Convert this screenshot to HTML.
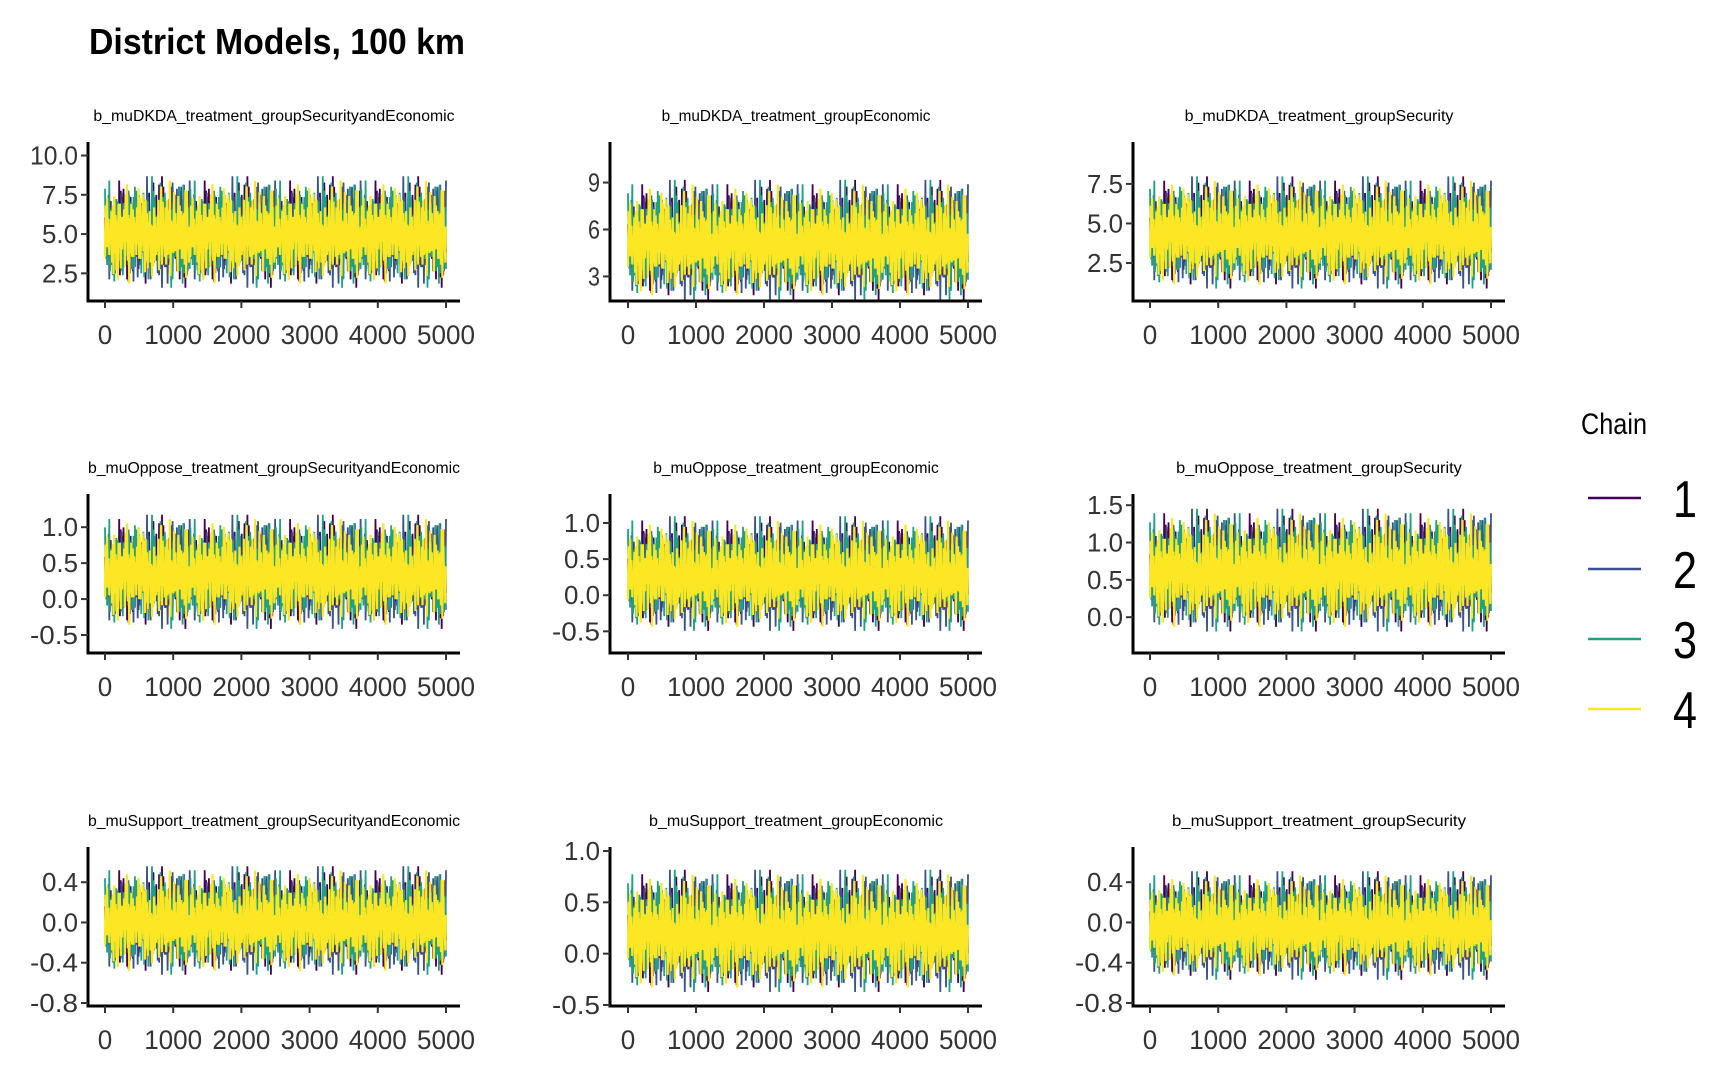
<!DOCTYPE html>
<html><head><meta charset="utf-8">
<style>
html,body{margin:0;padding:0;background:#fff;}
svg{display:block;font-family:"Liberation Sans Narrow","Liberation Sans",sans-serif;}
</style></head>
<body>
<svg id="chart" width="1728" height="1067" viewBox="0 0 1728 1067" xmlns="http://www.w3.org/2000/svg">
<text x="89" y="54" font-size="36" font-weight="bold" textLength="376" lengthAdjust="spacingAndGlyphs">District Models, 100 km</text>
<g>
<text x="1581" y="434" font-size="30" textLength="66" lengthAdjust="spacingAndGlyphs">Chain</text>
</g>
</svg>
<script>
const panelTitles = ["b_muDKDA_treatment_groupSecurityandEconomic","b_muDKDA_treatment_groupEconomic","b_muDKDA_treatment_groupSecurity",
"b_muOppose_treatment_groupSecurityandEconomic","b_muOppose_treatment_groupEconomic","b_muOppose_treatment_groupSecurity",
"b_muSupport_treatment_groupSecurityandEconomic","b_muSupport_treatment_groupEconomic","b_muSupport_treatment_groupSecurity"];
const panelMeans = [5.0,5.2,4.3,0.35,0.27,0.6,0.0,0.2,-0.05];
const panelSds = [1.25,1.35,1.25,0.28,0.28,0.29,0.19,0.21,0.19];
const yDomainMin = [0.74,1.43,0.1,-0.75,-0.80,-0.48,-0.83,-0.51,-0.83];
const yDomainMax = [10.67,11.4,9.96,1.42,1.36,1.61,0.72,1.01,0.72];
const yTicks = [[2.5,5.0,7.5,10.0],[3,6,9],[2.5,5.0,7.5],[-0.5,0.0,0.5,1.0],[-0.5,0.0,0.5,1.0],[0.0,0.5,1.0,1.5],[-0.8,-0.4,0.0,0.4],[-0.5,0.0,0.5,1.0],[-0.8,-0.4,0.0,0.4]];
const yTickLabels = [["2.5","5.0","7.5","10.0"],["3","6","9"],["2.5","5.0","7.5"],["-0.5","0.0","0.5","1.0"],["-0.5","0.0","0.5","1.0"],["0.0","0.5","1.0","1.5"],["-0.8","-0.4","0.0","0.4"],["-0.5","0.0","0.5","1.0"],["-0.8","-0.4","0.0","0.4"]];
const xTicks = [0,1000,2000,3000,4000,5000];
const xTickLabels = ["0","1000","2000","3000","4000","5000"];
const chainNames = ["1","2","3","4"];
const chainColors = ["#440154","#3b528b","#21a083","#fde725"];
const chainOffsets = [0,31,62,93];
const chainStrides = [7,11,13,17];
const wiggle = [0.8,-1.1,1.6,-0.4,0.9,-1.9,1.2,-0.7,2.3,-1.3,0.5,-0.9,1.8,-1.6,0.3,-2.2,1.1,-0.6,1.4,-1.2,2.6,-0.8,0.7,-1.5,1.9,-0.3,1.0,-2.0,0.6,-1.1,1.7,-0.9,0.4,-1.8,2.1,-0.5,1.3,-1.4,0.9,-2.4,1.5,-0.7,0.2,-1.3,2.0,-1.0,1.2,-0.6,1.8,-1.7,0.6,-0.9,2.4,-1.2,1.0,-0.4,1.6,-2.1,0.8,-1.5,1.1,-0.8,2.2,-1.0,0.5,-1.9,1.4,-0.6,1.7,-1.3,0.9,-2.6,1.3,-0.7,2.0,-1.1,0.4,-1.6,1.5,-0.9,2.8,-1.2,0.7,-1.4,1.2,-2.0,1.9,-0.5,0.8,-1.7,1.6,-1.0,0.3,-1.2,2.3,-0.8,1.1,-2.2,1.4,-0.6,0.9,-1.5,1.8,-1.3,0.6,-1.0,2.1,-1.8,1.0,-0.4,1.5,-2.3,1.2,-0.9,0.7,-1.6,2.5,-1.1,0.5,-1.4];

const NS="http://www.w3.org/2000/svg";
const svg=document.getElementById('chart');
function mk(tag,attrs,parent){const e=document.createElementNS(NS,tag);for(const k in attrs)e.setAttribute(k,attrs[k]);(parent||svg).appendChild(e);return e;}

const colAxisX=[88,610,1133], colX0=[105,628,1150], colX1=[446,968,1491], colEnd=[460,982,1505];
const rowTop=[145,497,850], rowBottom=[301,653,1006], rowStrip=[121,473,826];

for(let p=0;p<9;p++){
  const c=p%3, r=Math.floor(p/3);
  const g=mk('g',{});
  
  
  const xs=v=>colX0[c]+(v-0)/(5000-0)*(colX1[c]-colX0[c]);
  const ys=v=>rowBottom[r]-(v-yDomainMin[p])/(yDomainMax[p]-yDomainMin[p])*(rowBottom[r]-rowTop[r]);
  const t=mk('text',{x:(colAxisX[c]+colEnd[c])/2,y:rowStrip[r],'font-size':16,'text-anchor':'middle',textLength:Math.min(372,panelTitles[p].length*8.4),lengthAdjust:'spacingAndGlyphs'},g);
  
  
  t.textContent=panelTitles[p];
  const n=wiggle.length, m=n*4;
  for(let k=0;k<4;k++){
    let pts=[];
    for(let i=0;i<m;i++){
      const z=wiggle[(i*chainStrides[k]+chainOffsets[k])%n];
      const it=i*5000/(m-1);
      const val=panelMeans[p]+z*panelSds[p]*(k<3?1.05:0.97);
      pts.push(xs(it).toFixed(1)+','+ys(val).toFixed(1));
    }
    const pl=mk('polyline',{points:pts.join(' '),fill:'none',stroke:chainColors[k],'stroke-width':k<3?1.8:2.2},g);
    
    
  }
  const ya=mk('line',{x1:colAxisX[c],y1:rowTop[r]-3,x2:colAxisX[c],y2:rowBottom[r]+1.5,stroke:'#000','stroke-width':3},g);
  
  
  const xa=mk('line',{x1:colAxisX[c]-1.5,y1:rowBottom[r],x2:colEnd[c],y2:rowBottom[r],stroke:'#000','stroke-width':3},g);
  
  
  yTicks[p].forEach((v,j)=>{
    const y=ys(v);
    const tk=mk('line',{x1:colAxisX[c]-7,y1:y,x2:colAxisX[c],y2:y,stroke:'#333','stroke-width':2},g);
    
    
    const lab=yTickLabels[p][j];
    const tl=mk('text',{x:colAxisX[c]-10,y:y+9,'font-size':26,'text-anchor':'end',fill:'#333',textLength:lab.length*12,lengthAdjust:'spacingAndGlyphs'},g);
    
    
    tl.textContent=lab;
  });
  xTicks.forEach((v,j)=>{
    const x=xs(v);
    const tk=mk('line',{x1:x,y1:rowBottom[r],x2:x,y2:rowBottom[r]+7,stroke:'#333','stroke-width':2},g);
    
    
    const lab=xTickLabels[j];
    const tl=mk('text',{x:x,y:rowBottom[r]+43,'font-size':27,'text-anchor':'middle',fill:'#333',textLength:lab.length*14.5,lengthAdjust:'spacingAndGlyphs'},g);
    
    
    tl.textContent=lab;
  });
}
const legendY=[498,569,639,709];
chainNames.forEach((nm,k)=>{
  const g=mk('g',{});
  
  
  mk('line',{x1:1588,y1:legendY[k],x2:1641,y2:legendY[k],stroke:chainColors[k],'stroke-width':2.5},g);
  const t=mk('text',{x:1673,y:legendY[k]+19,'font-size':52,textLength:24,lengthAdjust:'spacingAndGlyphs'},g);
  
  
  t.textContent=nm;
});
</script>
</body></html>
